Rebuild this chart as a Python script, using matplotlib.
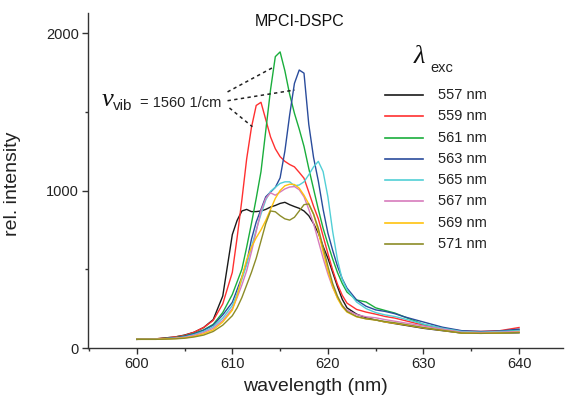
import matplotlib
matplotlib.use("Agg")
import matplotlib.pyplot as plt
from matplotlib.lines import Line2D
from matplotlib.ticker import MultipleLocator

plt.rcParams['font.family'] = ['Liberation Sans', 'DejaVu Sans']

wavelength = [600, 602, 604, 605, 606, 607, 608, 609,
              610, 610.5, 611, 611.5, 612, 612.5, 613, 613.5, 614, 614.5, 615, 615.5,
              616, 616.5, 617, 617.5, 618, 618.5, 619, 619.5, 620, 620.5, 621, 621.5, 622,
              623, 624, 625, 626, 627, 628, 630, 632, 634, 636, 638, 640]

exc_labels = ["557 nm", "559 nm", "561 nm", "563 nm", "565 nm", "567 nm", "569 nm", "571 nm"]
colors = ["#1a1a1a", "#ff3030", "#1aae3c", "#2a4c9c", "#52cfd6", "#d77cbc", "#ffc20e", "#8c8c28"]

i557 = [55, 58, 70, 82, 100, 130, 180, 330,
        720, 810, 870, 880, 866, 866, 870, 880, 895, 905, 918, 925,
        910, 898, 887, 870, 840, 790, 730, 645, 570, 480, 390, 310, 255,
        215, 192, 178, 165, 155, 145, 125, 110, 95, 95, 95, 97]
i559 = [55, 58, 70, 80, 100, 130, 175, 280,
        480, 700, 940, 1200, 1400, 1540, 1560, 1450, 1340, 1265, 1215, 1185,
        1165, 1150, 1115, 1078, 990, 900, 820, 710, 600, 495, 405, 335, 285,
        245, 228, 215, 200, 190, 175, 145, 125, 108, 105, 110, 130]
i561 = [55, 57, 66, 76, 92, 115, 150, 225,
        340, 420, 500, 640, 790, 950, 1120, 1380, 1640, 1850, 1880, 1760,
        1610, 1490, 1390, 1280, 1140, 1010, 880, 760, 660, 565, 480, 410, 355,
        305, 292, 255, 238, 222, 198, 150, 125, 105, 100, 105, 115]
i563 = [55, 57, 64, 74, 90, 112, 145, 210,
        290, 370, 450, 540, 690, 800, 880, 960, 990, 1020, 1080, 1250,
        1480, 1680, 1765, 1745, 1420, 1210, 1060, 880, 730, 620, 520, 440, 380,
        305, 265, 242, 232, 218, 198, 165, 132, 110, 105, 108, 120]
i565 = [55, 56, 62, 70, 85, 105, 135, 190,
        270, 345, 435, 530, 640, 750, 850, 940, 995, 1020, 1045, 1055,
        1055, 1030, 1035, 1055, 1100, 1150, 1185, 1120, 960, 740, 560, 435, 370,
        292, 250, 225, 210, 200, 185, 152, 125, 105, 100, 105, 110]
i567 = [55, 56, 62, 68, 80, 98, 125, 175,
        250, 320, 400, 490, 610, 740, 870, 950, 985, 970, 990, 1010,
        1022, 1025, 1005, 960, 880, 790, 680, 570, 470, 385, 320, 270, 240,
        212, 198, 192, 180, 170, 160, 140, 120, 100, 98, 100, 105]
i569 = [55, 55, 60, 64, 74, 90, 115, 165,
        240, 330, 450, 560, 640, 700, 750, 810, 880, 950, 1000, 1030,
        1040, 1038, 1015, 970, 915, 850, 740, 610, 490, 390, 315, 262, 228,
        198, 185, 178, 165, 157, 148, 128, 112, 95, 93, 95, 100]
i571 = [55, 55, 58, 62, 70, 82, 105, 145,
        205, 255, 320, 400, 480, 570, 680, 790, 870, 865, 840, 820,
        812, 830, 870, 910, 915, 850, 760, 640, 520, 410, 330, 270, 232,
        200, 185, 178, 168, 160, 150, 130, 112, 95, 93, 95, 98]

series = [i557, i559, i561, i563, i565, i567, i569, i571]

x_ticks = [600, 610, 620, 630, 640]
y_ticks = [0, 1000, 2000]

W, H = 566, 401
fig = plt.figure(figsize=(W / 100, H / 100), dpi=100)
ax = fig.add_axes([88 / W, 1 - 348 / H, (563 - 88) / W, (348 - 13) / H])

for vals, col in zip(series, colors):
    ax.plot(wavelength, vals, color=col, lw=1.0)

ax.set_xlim(594.9, 644.6)
ax.set_ylim(0, 2127)
ax.set_xticks(x_ticks)
ax.set_yticks(y_ticks)
ax.xaxis.set_minor_locator(MultipleLocator(5))
ax.yaxis.set_minor_locator(MultipleLocator(500))
for s in ['top', 'right']:
    ax.spines[s].set_visible(False)
for s in ['left', 'bottom']:
    ax.spines[s].set_linewidth(1.0)
    ax.spines[s].set_color('#333333')
ax.tick_params(which='major', direction='out', length=4.5, width=1.0, color='#333333',
               labelsize=10.5, labelcolor='#222222', pad=2)
ax.tick_params(which='minor', direction='out', length=2.5, width=1.0, color='#333333')

ax.set_xlabel("wavelength (nm)", fontsize=14, color='#222222')
ax.set_ylabel("rel. intensity", fontsize=14, color='#222222')
ax.xaxis.set_label_coords(0.479, -0.09)
ax.yaxis.set_label_coords(-0.14, 0.49)

# title inside plot
fig.text(300 / W, 1 - 22 / H, "MPCI-DSPC", fontsize=11.5, ha='center', va='center', color='#111111')

# legend (manual)
fig.text(414 / W, 1 - 57 / H, "\u03bb", fontsize=19, family='Liberation Serif', style='italic',
         ha='left', va='center', color='#111111')
fig.text(430 / W, 1 - 68 / H, "exc", fontsize=10.5, ha='left', va='center', color='#222222')
for k, (lab, col) in enumerate(zip(exc_labels, colors)):
    yy = 1 - (95 + k * 21.3) / H
    fig.add_artist(Line2D([385 / W, 423 / W], [yy, yy], color=col, lw=1.2))
    fig.text(438 / W, yy, lab, fontsize=10.5, ha='left', va='center', color='#222222')

# annotation nu_vib
fig.text(102 / W, 1 - 100 / H, "\u03bd", fontsize=19, family='Liberation Serif', style='italic',
         ha='left', va='center', color='#111111')
fig.text(113 / W, 1 - 106 / H, "vib", fontsize=11, ha='left', va='center', color='#222222')
fig.text(140 / W, 1 - 103 / H, "= 1560 1/cm", fontsize=10.5, ha='left', va='center', color='#222222')

ann_lines = [((609.5, 1626), (614.4, 1786)),
             ((609.5, 1570), (616.5, 1638)),
             ((609.7, 1524), (612.1, 1405))]
for (x0, y0), (x1, y1) in ann_lines:
    ax.plot([x0, x1], [y0, y1], color='#222222', lw=1.1, ls=(0, (2.2, 2.2)))

fig.savefig("out.png", dpi=100)
